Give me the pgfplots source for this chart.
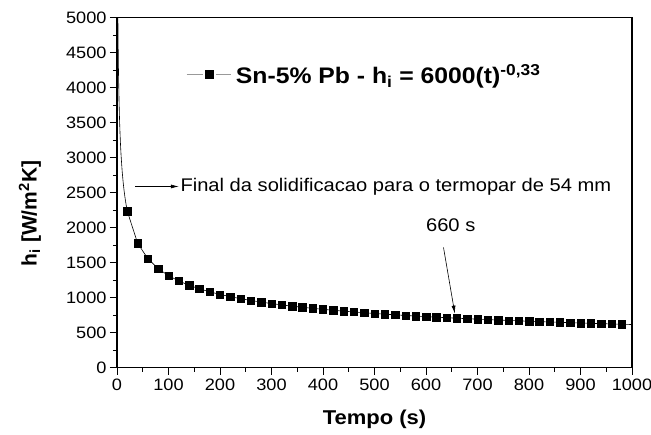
\documentclass[border=0pt]{standalone}
\usepackage{pgfplots}
\pgfplotsset{compat=1.18}
\usepackage{pgfplotstable}
\usepackage{fontspec}
\setmainfont{Liberation Sans}[FakeStretch=1.1]
\newfontfamily\ylabfont{Liberation Sans}
\usetikzlibrary{arrows.meta}

\pgfplotstableread{
t h
1.5 5248.6
2 4773.3
2.5 4434.2
3 4175.5
4 3797.4
5 3527.8
6 3321.8
7 3157.0
8 3021.0
10 2806.5
12 2642.7
14 2511.5
16 2403.4
18 2311.7
20 2232.6
40 1776.1
60 1553.7
80 1413.0
100 1312.7
120 1236.1
140 1174.7
160 1124.1
180 1081.3
200 1044.3
220 1011.9
240 983.4
260 957.7
280 934.5
300 913.5
320 894.3
340 876.5
360 860.2
380 844.9
400 830.8
420 817.5
440 805.0
460 793.3
480 782.3
500 771.8
520 761.9
540 752.5
560 743.5
580 734.9
600 726.7
620 718.9
640 711.5
660 704.2
680 697.3
700 690.7
720 684.3
740 678.1
760 672.2
780 666.5
800 660.9
820 655.5
840 650.4
860 645.3
880 640.5
900 635.7
920 631.1
940 626.7
960 622.4
980 618.1
1000 614.0
}\curvetable

\pgfplotstableread{
t h
20 2232.6
40 1776.1
60 1553.7
80 1413.0
100 1312.7
120 1236.1
140 1174.7
160 1124.1
180 1081.3
200 1044.3
220 1011.9
240 983.4
260 957.7
280 934.5
300 913.5
320 894.3
340 876.5
360 860.2
380 844.9
400 830.8
420 817.5
440 805.0
460 793.3
480 782.3
500 771.8
520 761.9
540 752.5
560 743.5
580 734.9
600 726.7
620 718.9
640 711.5
660 704.2
680 697.3
700 690.7
720 684.3
740 678.1
760 672.2
780 666.5
800 660.9
820 655.5
840 650.4
860 645.3
880 640.5
900 635.7
920 631.1
940 626.7
960 622.4
980 618.1
}\marktable

\begin{document}
\begin{tikzpicture}
\path[use as bounding box] (-117pt,-67pt) rectangle (534pt,367.5pt);
\begin{axis}[
  at={(0pt,0pt)}, anchor=south west,
  scale only axis,
  width=515pt, height=350pt,
  xmin=0, xmax=1000, ymin=0, ymax=5000,
  xtick distance=100, ytick distance=500,
  minor x tick num=1, minor y tick num=1,
  tick align=outside,
  major tick length=7pt, minor tick length=4pt,
  xtick pos=bottom, ytick pos=left,
  axis line style={line width=1.1pt},
  every tick/.style={black, line width=0.9pt},
  scaled ticks=false,
  /pgf/number format/assume math mode=true,
  /pgf/number format/1000 sep={},
  ticklabel style={font=\fontsize{16.5}{16.5}\selectfont},
  xticklabel style={yshift=-1pt},
  xlabel={Tempo (s)},
  ylabel={h\textsubscript{i} [W/m\textsuperscript{2}K]},
  xlabel style={font=\bfseries\fontsize{20}{20}\selectfont, at={(axis description cs:0.5,-0.149)}, anchor=center},
  ylabel style={font=\ylabfont\bfseries\fontsize{21}{21}\selectfont, at={(axis description cs:-0.169,0.44)}, anchor=center},
  legend style={draw=none, fill=none, at={(axis description cs:0.134,0.837)}, anchor=west, inner sep=0pt,
    font=\bfseries\fontsize{22.5}{22.5}\selectfont},
  legend cell align=left,
  legend image code/.code={
    \draw[gray!80, line width=0.7pt] (0pt,0pt)--(16pt,0pt) (29pt,0pt)--(44pt,0pt);
    \fill[black] (18.5pt,-4pt) rectangle (26.5pt,4pt);
  },
  /tikz/every even column/.append style={column sep=0pt},
]
\addplot[black, line width=0.6pt, forget plot] table[x=t, y=h] {\curvetable};
\addplot[only marks, mark=square*, mark size=3.7pt, black] table[x=t, y=h] {\marktable};
\addlegendentry{\hspace{3pt}Sn-5\% Pb - h\textsubscript{i} = 6000(t)\textsuperscript{-0,33}}

\draw[-{Latex[length=8pt,width=4pt]}, line width=0.6pt] (axis cs:35,2586) -- (axis cs:120,2586);
\node[anchor=west, font=\fontsize{18.3}{18.3}\selectfont, inner sep=1pt] at (axis cs:121,2586) {Final da solidificacao para o termopar de 54 mm};
\node[font=\fontsize{18.3}{18.3}\selectfont] at (axis cs:648,2029) {660 s};
\draw[-{Latex[length=8pt,width=4pt]}, line width=0.6pt] (axis cs:634,1714) -- (axis cs:656,770);
\end{axis}
\end{tikzpicture}
\end{document}
